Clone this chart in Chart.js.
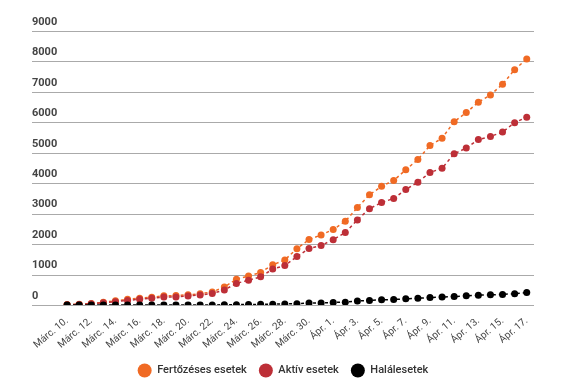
<!DOCTYPE html>
<html>
<head>
<meta charset="utf-8">
<script src="https://cdn.jsdelivr.net/npm/chart.js@4.4.1/dist/chart.umd.min.js"></script>
<style>
    body { margin: 0; background: #fff; }
    #wrap { width: 575px; height: 387px; position: relative; }
</style>
</head>
<body>
<div id="wrap"><canvas id="covidChart"></canvas></div>
<script>
// napok (Márc. 10. - Ápr. 17.)
var days = [
    'Márc. 10.', 'Márc. 11.', 'Márc. 12.', 'Márc. 13.', 'Márc. 14.', 'Márc. 15.', 'Márc. 16.',
    'Márc. 17.', 'Márc. 18.', 'Márc. 19.', 'Márc. 20.', 'Márc. 21.', 'Márc. 22.', 'Márc. 23.',
    'Márc. 24.', 'Márc. 25.', 'Márc. 26.', 'Márc. 27.', 'Márc. 28.', 'Márc. 29.', 'Márc. 30.',
    'Márc. 31.', 'Ápr. 1.', 'Ápr. 2.', 'Ápr. 3.', 'Ápr. 4.', 'Ápr. 5.', 'Ápr. 6.', 'Ápr. 7.',
    'Ápr. 8.', 'Ápr. 9.', 'Ápr. 10.', 'Ápr. 11.', 'Ápr. 12.', 'Ápr. 13.', 'Ápr. 14.',
    'Ápr. 15.', 'Ápr. 16.', 'Ápr. 17.'
];

var infected = [15, 25, 48, 89, 140, 185, 225, 255, 300, 310, 335, 370, 430, 590, 850,
    950, 1070, 1320, 1480, 1850, 2150, 2300, 2480, 2750, 3200, 3620, 3900, 4090, 4440,
    4780, 5240, 5480, 6020, 6320, 6660, 6900, 7250, 7730, 8080];

var active = [10, 20, 40, 75, 110, 150, 190, 220, 260, 265, 295, 330, 375, 495, 710,
    815, 925, 1180, 1295, 1590, 1855, 1955, 2145, 2380, 2795, 3165, 3365, 3500, 3790,
    4035, 4350, 4495, 4965, 5155, 5435, 5535, 5680, 5990, 6170];

var deaths = [0, 0, 0, 0, 0, 0, 0, 0, 0, 0, 0, 0, 2, 7, 11, 17, 23, 26, 37, 43, 65, 69,
    85, 94, 133, 151, 170, 180, 205, 220, 245, 260, 278, 300, 322, 335, 348, 372, 411];

var yTicks = [0, 1000, 2000, 3000, 4000, 5000, 6000, 7000, 8000, 9000];

// only every second day gets a label
var tickIdx = days.map((d, i) => i).filter(i => i % 2 === 0);

function toPoints(arr) {
    return arr.map((v, i) => ({ x: i, y: v }));
}

function makeSet(label, data, color, order) {
    return {
        label: label,
        data: toPoints(data),
        borderColor: color,
        backgroundColor: color,
        borderWidth: 1.5,
        borderDash: [3, 3],
        pointRadius: 3.5,
        pointBorderWidth: 0,
        pointBackgroundColor: color,
        tension: 0,
        order: order
    };
}

// horizontal grid lines from the y scale ticks
var hGridPlugin = {
    id: 'hGrid',
    beforeDatasetsDraw(chart) {
        const { ctx, chartArea, scales } = chart;
        const y = scales.y;
        ctx.save();
        ctx.strokeStyle = '#aaaaaa';
        ctx.lineWidth = 1;
        ctx.setLineDash([]);
        yTicks.forEach(v => {
            const py = Math.round(y.getPixelForValue(v)) + 0.5;
            ctx.beginPath();
            ctx.moveTo(chartArea.left, py);
            ctx.lineTo(chartArea.right, py);
            ctx.stroke();
        });
        ctx.restore();
    }
};

var ctx = document.getElementById('covidChart').getContext('2d');
var covidChart = new Chart(ctx, {
    type: 'line',
    data: {
        datasets: [
            makeSet('Fertőzéses esetek', infected, '#f06a24', 3),
            makeSet('Aktív esetek', active, '#bd2f37', 2),
            makeSet('Halálesetek', deaths, '#000000', 1)
        ]
    },
    plugins: [hGridPlugin],
    options: {
        responsive: true,
        maintainAspectRatio: false,
        animation: false,
        layout: { padding: { top: 31, left: 32, right: 41, bottom: 1 } },
        scales: {
            x: {
                type: 'linear',
                min: -2.9,
                max: 38.6,
                grid: { display: false },
                border: { display: false },
                afterBuildTicks: (axis) => {
                    axis.ticks = tickIdx.map(v => ({ value: v }));
                },
                ticks: {
                    autoSkip: false,
                    minRotation: 40,
                    maxRotation: 40,
                    padding: 2,
                    color: '#444',
                    font: { family: 'Roboto', size: 10 },
                    callback: (v) => days[v]
                }
            },
            y: {
                min: 0,
                max: 9000,
                afterBuildTicks: (axis) => {
                    axis.ticks = yTicks.map(v => ({ value: v }));
                },
                grid: { display: false, drawTicks: false },
                border: { display: false },
                ticks: {
                    mirror: true,
                    padding: 0,
                    labelOffset: -9,
                    color: '#444',
                    font: { family: 'Roboto', size: 11, weight: 'bold' },
                    callback: (v) => String(v)
                }
            }
        },
        plugins: {
            tooltip: { enabled: false },
            legend: {
                position: 'bottom',
                labels: {
                    usePointStyle: true,
                    pointStyle: 'circle',
                    boxHeight: 10,
                    pointStyleWidth: 14,
                    padding: 12,
                    color: '#333',
                    font: { family: 'Roboto', size: 11, weight: '500' },
                    sort: (a, b) => a.datasetIndex - b.datasetIndex
                }
            }
        }
    }
});
</script>
</body>
</html>
